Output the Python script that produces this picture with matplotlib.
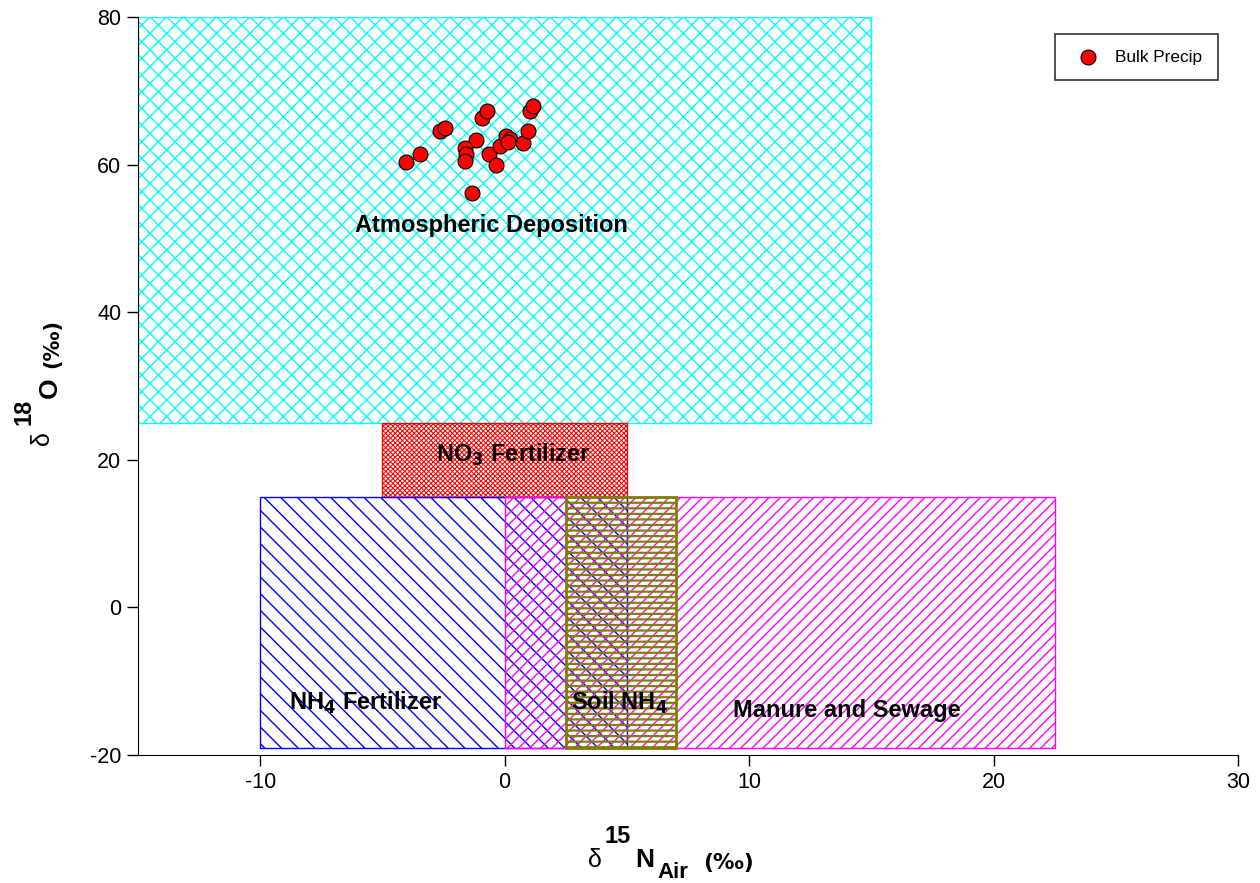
import matplotlib
matplotlib.use("Agg")
import matplotlib.pyplot as plt
from matplotlib.patches import Rectangle

plt.rcParams['font.family'] = ['Liberation Sans', 'DejaVu Sans']
plt.rcParams['axes.unicode_minus'] = False

# ---- data ----
precip_d15n = [-4.05, -3.46, -2.63, -2.43, -0.94, -0.71, -1.17, -1.64, -1.60, -1.64,
               -1.32, -0.63, -0.36, -0.18, 0.07, 0.23, 0.12, 0.75, 0.95, 1.02, 1.16]
precip_d18o = [60.3, 61.5, 64.5, 64.9, 66.3, 67.25, 63.3, 62.2, 61.5, 60.5,
               56.1, 61.5, 59.9, 62.5, 63.9, 63.5, 63.0, 62.9, 64.6, 67.3, 67.9]

# source boxes
box_names = ["Atmospheric Deposition", "NO3 Fertilizer", "NH4 Fertilizer",
             "Manure and Sewage", "Soil NH4"]
box_x0 = [-15, -5, -10, 0, 2.5]
box_x1 = [15, 5, 5, 22.5, 7]
box_y0 = [25, 15, -19, -19, -19]
box_y1 = [80, 25, 15, 15, 15]
box_colors = ["#00FFFF", "#FF0000", "#0000FF", "#FF00FF", "#808000"]
box_hatch = ["xx", "xxxxxxx", "\\\\", "///", "---"]
box_hatch_lw = [1.0, 0.75, 1.0, 1.0, 1.6]
box_edge_lw = [1.0, 1.0, 1.0, 1.0, 2.0]

label_text = ["Atmospheric Deposition", r"NO$_\mathbf{3}$ Fertilizer",
              r"NH$_\mathbf{4}$ Fertilizer", r"Soil NH$_\mathbf{4}$", "Manure and Sewage"]
label_x = [-0.55, 0.35, -5.7, 4.7, 14.0]
label_y = [51.8, 20.6, -13.0, -13.0, -14.0]

xticks = [-10, 0, 10, 20, 30]
yticks = [-20, 0, 20, 40, 60, 80]

W, H = 1260, 883
fig = plt.figure(figsize=(W / 100, H / 100), dpi=100)
ax = fig.add_axes([138 / W, 1 - 755 / H, 1100 / W, 738 / H])

for x0, x1, y0, y1, c, h, hlw, elw in zip(box_x0, box_x1, box_y0, box_y1, box_colors,
                                          box_hatch, box_hatch_lw, box_edge_lw):
    r = Rectangle((x0, y0), x1 - x0, y1 - y0, facecolor="none", edgecolor=c,
                  hatch=h, linewidth=elw, zorder=2)
    try:
        r.set_hatch_linewidth(hlw)
    except Exception:
        pass
    ax.add_patch(r)

ax.scatter(precip_d15n, precip_d18o, s=115, facecolor="#FF0000", edgecolor="black",
           linewidth=0.8, zorder=5, label="Bulk Precip")

for t, x, y in zip(label_text, label_x, label_y):
    ax.text(x, y, t, ha="center", va="center", fontsize=17, fontweight="bold", zorder=6)

ax.set_xlim(-15, 30)
ax.set_ylim(-20, 80)
ax.set_xticks(xticks)
ax.set_yticks(yticks)
ax.tick_params(labelsize=15.5, length=8, width=1, direction="out", pad=4)
ax.spines["top"].set_visible(False)
ax.spines["right"].set_visible(False)

leg = ax.legend(loc="upper right", bbox_to_anchor=(1218 / W, 1 - 34 / H),
                bbox_transform=fig.transFigure, frameon=True, fancybox=False,
                edgecolor="black", fontsize=12.4, borderpad=0.9, handletextpad=0.6,
                handlelength=2.0, markerscale=1.0, borderaxespad=0)
leg.get_frame().set_linewidth(1.2)


def ftxt(xp, yp, s, size, rot=0, weight="bold", family=None):
    kw = {}
    if family:
        kw["family"] = family
    fig.text(xp / W, 1 - yp / H, s, fontsize=size, fontweight=weight,
             ha="left", va="baseline", rotation=rot, rotation_mode="anchor", **kw)


# x label: δ15N_Air (‰)
ftxt(588, 867, "δ", 18, weight="normal")
ftxt(605, 843, "15", 17)
ftxt(635, 867, "N", 19)
ftxt(657, 878, "Air", 16)
ftxt(703, 869, "(‰)", 15.5, family=["DejaVu Sans"])

# y label: δ18O (‰)
ftxt(49, 445, "δ", 18, 90, weight="normal")
ftxt(31, 425, "18", 17, 90)
ftxt(57, 398, "O", 19, 90)
ftxt(58, 368, "(‰)", 15, 90, family=["DejaVu Sans"])

fig.savefig("out.png", dpi=100)
